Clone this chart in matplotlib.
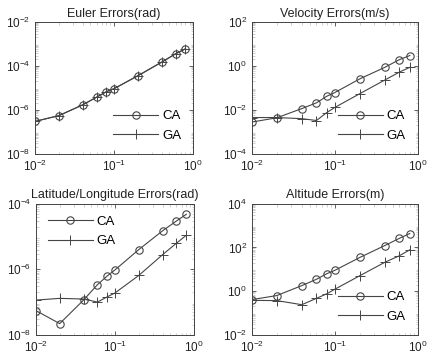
import matplotlib
matplotlib.use("Agg")
import matplotlib.pyplot as plt
from matplotlib.ticker import LogLocator, NullFormatter

plt.rcParams['font.family'] = ['Liberation Sans', 'DejaVu Sans']
plt.rcParams['mathtext.fontset'] = 'custom'
plt.rcParams['mathtext.rm'] = 'Liberation Sans'
plt.rcParams['mathtext.it'] = 'Liberation Sans'
plt.rcParams['mathtext.default'] = 'regular'

x = [0.01, 0.02, 0.04, 0.06, 0.08, 0.1, 0.2, 0.4, 0.6, 0.8]

euler_ca = [3.0e-7, 5.5e-7, 1.7e-6, 3.8e-6, 6.8e-6, 9.3e-6, 3.6e-5, 1.5e-4, 3.6e-4, 6.1e-4]
euler_ga = [3.0e-7, 5.5e-7, 1.7e-6, 3.8e-6, 6.8e-6, 9.3e-6, 3.6e-5, 1.5e-4, 3.6e-4, 6.1e-4]

vel_ca = [2.8e-3, 4.4e-3, 1.15e-2, 2.1e-2, 4.2e-2, 6.2e-2, 0.26, 0.87, 1.95, 3.0]
vel_ga = [4.5e-3, 4.5e-3, 4.0e-3, 3.3e-3, 7.6e-3, 1.3e-2, 5.5e-2, 0.23, 0.53, 0.87]

latlon_ca = [5.5e-8, 2.2e-8, 1.15e-7, 3.4e-7, 6.3e-7, 9.6e-7, 4.0e-6, 1.5e-5, 3.0e-5, 4.8e-5]
latlon_ga = [1.15e-7, 1.3e-7, 1.24e-7, 1.0e-7, 1.45e-7, 1.9e-7, 6.5e-7, 2.8e-6, 6.3e-6, 1.1e-5]

alt_ca = [0.41, 0.63, 1.8, 3.5, 6.3, 9.0, 35, 123, 263, 436]
alt_ga = [0.38, 0.37, 0.24, 0.47, 0.76, 1.23, 5.1, 21, 42, 78]

titles = ["Euler Errors(rad)", "Velocity Errors(m/s)",
          "Latitude/Longitude Errors(rad)", "Altitude Errors(m)"]
ylims = [(1e-8, 1e-2), (1e-4, 1e2), (1e-8, 1e-4), (1e-2, 1e4)]
yticks = [[1e-8, 1e-6, 1e-4, 1e-2], [1e-4, 1e-2, 1e0, 1e2],
          [1e-8, 1e-6, 1e-4], [1e-2, 1e0, 1e2, 1e4]]
series = [(euler_ca, euler_ga), (vel_ca, vel_ga),
          (latlon_ca, latlon_ga), (alt_ca, alt_ga)]
legend_locs = ["lower right", "lower right", "upper left", "lower right"]

fig = plt.figure(figsize=(4.38, 3.62), dpi=100)
positions = [
    [0.080, 0.575, 0.361, 0.364],
    [0.575, 0.575, 0.379, 0.364],
    [0.082, 0.075, 0.361, 0.362],
    [0.575, 0.075, 0.379, 0.362],
]
lc = '#454545'
for i in range(4):
    ax = fig.add_axes(positions[i])
    ca, ga = series[i]
    ax.loglog(x, ca, '-o', color=lc, lw=0.8, ms=5.3, mfc='none', mec=lc, mew=0.8, label='CA')
    ax.loglog(x, ga, '-+', color=lc, lw=0.8, ms=6.5, mew=0.7, label='GA')
    ax.set_xlim(1e-2, 1e0)
    ax.set_ylim(*ylims[i])
    ax.set_xticks([1e-2, 1e-1, 1e0])
    ax.set_yticks(yticks[i])
    ax.xaxis.set_minor_locator(LogLocator(base=10, subs=range(2, 10), numticks=20))
    ax.yaxis.set_minor_locator(LogLocator(base=10, subs=range(2, 10), numticks=20))
    ax.xaxis.set_minor_formatter(NullFormatter())
    ax.yaxis.set_minor_formatter(NullFormatter())
    ax.tick_params(which='both', direction='in', top=True, right=True,
                   labelsize=8.5, colors='#222222')
    ax.tick_params(which='major', length=3, width=0.5)
    ax.tick_params(which='minor', length=1.8, width=0.4, color='#aaaaaa')
    for s in ax.spines.values():
        s.set_linewidth(0.7)
        s.set_color('#444444')
    ax.set_title(titles[i], fontsize=9, pad=4, color='#222222')
    ax.legend(loc=legend_locs[i], frameon=False, fontsize=9.5,
              handlelength=3.4, labelspacing=0.55, borderaxespad=0.5,
              handletextpad=0.3)

fig.savefig("out.png", dpi=100)
